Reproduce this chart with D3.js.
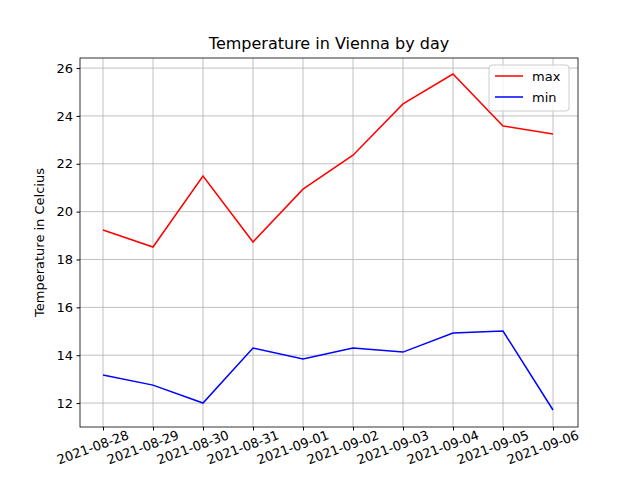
<!DOCTYPE html>
<html><head><meta charset="utf-8">
<script src="https://cdn.jsdelivr.net/npm/d3@7"></script>
<style>body{margin:0;background:#fff}text{font-family:"DejaVu Sans",sans-serif}</style>
</head><body><div id="chart"></div>
<script>
var dates = ["2021-08-28","2021-08-29","2021-08-30","2021-08-31","2021-09-01","2021-09-02","2021-09-03","2021-09-04","2021-09-05","2021-09-06"];
var maxTemps = [19.23,18.52,21.49,18.73,20.94,22.36,24.50,25.75,23.58,23.24];
var minTemps = [13.17,12.75,12.0,14.30,13.84,14.30,14.13,14.93,15.01,11.71];
var yTicks = [12,14,16,18,20,22,24,26];

var w = 640, h = 480, padL = 80, padR = 578, padT = 58, padB = 427;
var svg = d3.select("#chart").append("svg").attr("width", w).attr("height", h);

var x = d3.scalePoint().domain(dates).range([103, 553]);
var y = d3.scaleLinear().domain([11.0, 26.42]).range([padB, padT]);

// grid
svg.append("g").selectAll("line").data(dates).enter().append("line")
    .attr("x1", function(d){return x(d);}).attr("x2", function(d){return x(d);})
    .attr("y1", padT).attr("y2", padB).attr("stroke", "#b0b0b0").attr("stroke-width", 0.8);
svg.append("g").selectAll("line").data(yTicks).enter().append("line")
    .attr("y1", function(d){return y(d);}).attr("y2", function(d){return y(d);})
    .attr("x1", padL).attr("x2", padR).attr("stroke", "#b0b0b0").attr("stroke-width", 0.8);

var xAxis = svg.append("g").attr("transform", "translate(0," + padB + ")")
    .call(d3.axisBottom(x).tickSizeOuter(0).tickSize(3.5).tickPadding(3.5));
xAxis.selectAll("text").attr("font-size", 13).attr("fill", "#000")
    .attr("text-anchor", "end").attr("transform", "rotate(-20)").attr("dx", "1.6em").attr("dy", "1.0em");
var yAxis = svg.append("g").attr("transform", "translate(" + padL + ",0)")
    .call(d3.axisLeft(y).tickValues(yTicks).tickSizeOuter(0).tickSize(3.5).tickPadding(3.5));
yAxis.selectAll("text").attr("font-size", 13).attr("fill", "#000");
svg.selectAll(".domain").remove();

svg.append("rect").attr("x", padL).attr("y", padT).attr("width", padR - padL).attr("height", padB - padT)
    .attr("fill", "none").attr("stroke", "#000").attr("stroke-width", 0.8);

var line = d3.line().x(function(d, i){return x(dates[i]);}).y(function(d){return y(d);});
svg.append("path").datum(maxTemps).attr("d", line).attr("fill", "none").attr("stroke", "red").attr("stroke-width", 1.5);
svg.append("path").datum(minTemps).attr("d", line).attr("fill", "none").attr("stroke", "blue").attr("stroke-width", 1.5);

svg.append("text").attr("x", (padL + padR) / 2).attr("y", 49).attr("text-anchor", "middle")
    .attr("font-size", 16).text("Temperature in Vienna by day");
svg.append("text").attr("transform", "translate(44," + ((padT + padB) / 2) + ") rotate(-90)")
    .attr("text-anchor", "middle").attr("font-size", 13).text("Temperature in Celcius");

// legend
var lg = svg.append("g").attr("transform", "translate(489,65)");
lg.append("rect").attr("width", 80).attr("height", 46).attr("rx", 3).attr("fill", "#fff")
    .attr("fill-opacity", 0.8).attr("stroke", "#ccc");
[["max", "red"], ["min", "blue"]].forEach(function(s, i){
    lg.append("line").attr("x1", 6).attr("x2", 34).attr("y1", 11 + i * 21).attr("y2", 11 + i * 21)
        .attr("stroke", s[1]).attr("stroke-width", 1.5);
    lg.append("text").attr("x", 43).attr("y", 15.5 + i * 21).attr("font-size", 13).text(s[0]);
});
</script></body></html>
